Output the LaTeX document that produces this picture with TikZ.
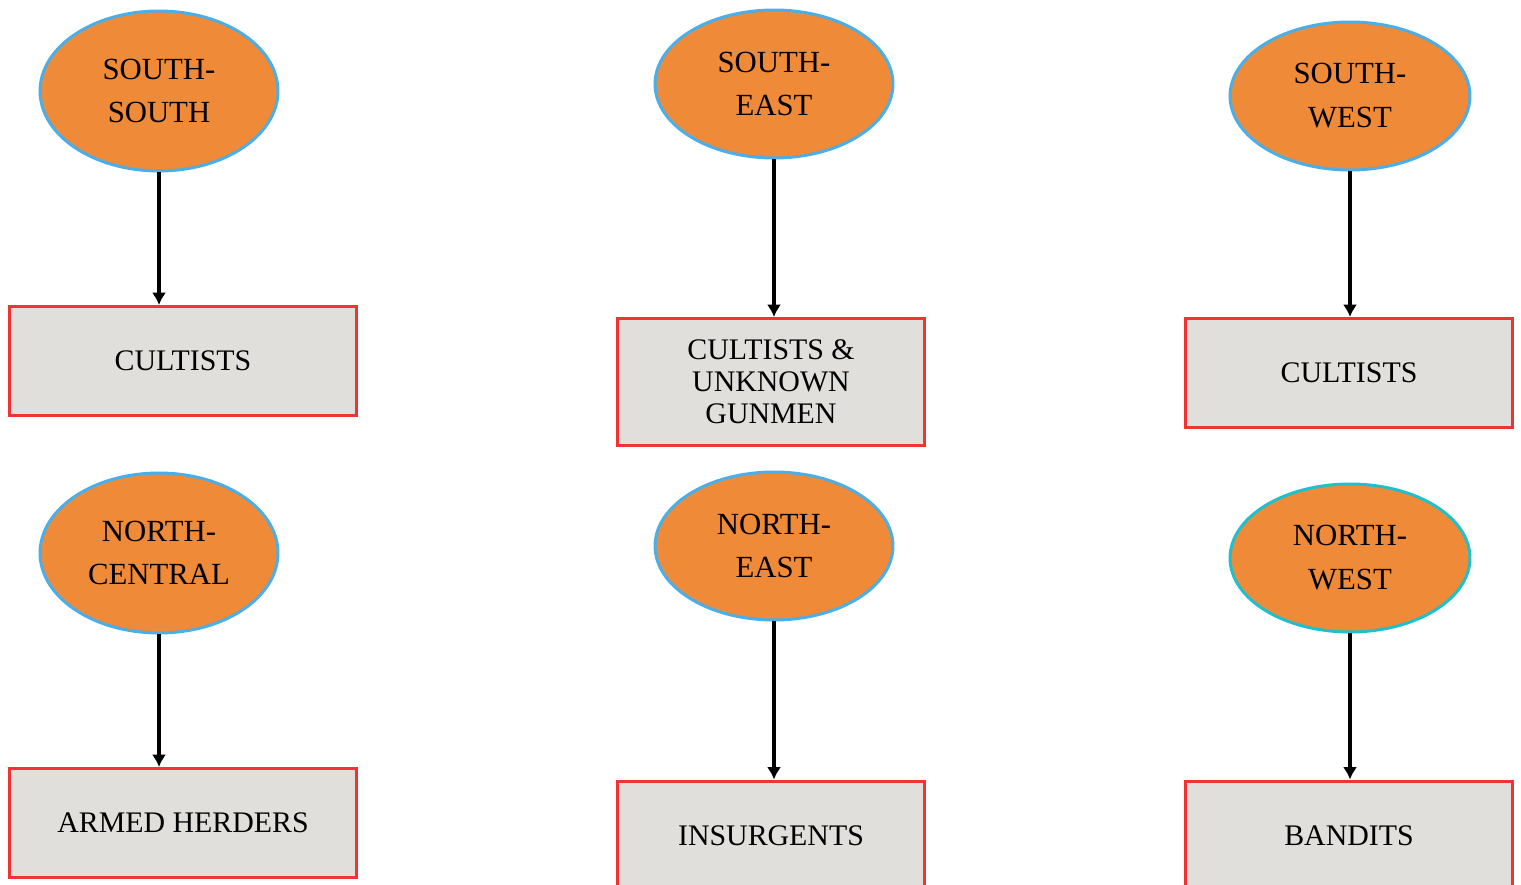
\documentclass[tikz,border=0pt]{standalone}
\usepackage{fontspec}
\setmainfont{Liberation Serif}
\usetikzlibrary{shapes.geometric, arrows.meta}

\definecolor{regionfill}{HTML}{EE8A38}
\definecolor{regionline}{HTML}{4AAEE8}
\definecolor{tealline}{HTML}{1EC0CC}
\definecolor{groupfill}{HTML}{E0DFDB}
\definecolor{groupline}{HTML}{F03434}

\tikzset{
  region/.style={ellipse, draw = regionline, fill = regionfill, line width = 1.7pt,
    inner sep = 0pt, align = center, font = \fontsize{17.5}{25}\selectfont},
  group/.style={rectangle, draw = groupline, fill = groupfill, line width = 1.7pt,
    inner sep = 0pt, align = center, font = \fontsize{17}{18.2}\selectfont},
  link/.style={-{Latex[length = 7pt, width = 8pt]}, line width = 1.8pt}
}

\begin{document}
\begin{tikzpicture}[x = 0.02cm, y = -0.02cm]

        \useasboundingbox (0, 0) rectangle (1521, 885);
        \clip (0, 0) rectangle (1521, 885);

        % regions
        \node (ss) at (159, 91) [region, minimum width = 4.76cm, minimum height = 3.2cm] {SOUTH-\\SOUTH};
        \node (se) at (774, 84) [region, minimum width = 4.76cm, minimum height = 2.96cm] {SOUTH-\\EAST};
        \node (sw) at (1350, 96) [region, minimum width = 4.8cm, minimum height = 2.96cm] {SOUTH-\\WEST};

        \node (nc) at (159, 553) [region, minimum width = 4.76cm, minimum height = 3.2cm] {NORTH-\\CENTRAL};
        \node (ne) at (774, 546) [region, minimum width = 4.76cm, minimum height = 2.96cm] {NORTH-\\EAST};
        \node (nw) at (1350, 558) [region, draw = tealline, minimum width = 4.8cm, minimum height = 2.96cm] {NORTH-\\WEST};

        % groups
        \node (g1) at (183, 361) [group, minimum width = 6.96cm, minimum height = 2.18cm] {CULTISTS};
        \node (g2) at (771, 382) [group, minimum width = 6.16cm, minimum height = 2.54cm] {CULTISTS \&\\UNKNOWN\\GUNMEN};
        \node (g3) at (1349, 373) [group, minimum width = 6.56cm, minimum height = 2.18cm] {CULTISTS};

        \node (g4) at (183, 823) [group, minimum width = 6.96cm, minimum height = 2.18cm] {ARMED HERDERS};
        \node (g5) at (771, 836) [group, minimum width = 6.16cm, minimum height = 2.2cm] {INSURGENTS};
        \node (g6) at (1349, 836) [group, minimum width = 6.56cm, minimum height = 2.2cm] {BANDITS};

        % links
        \draw [link] (ss.south) -- (ss.south |- g1.north);
        \draw [link] (se.south) -- (se.south |- g2.north);
        \draw [link] (sw.south) -- (sw.south |- g3.north);
        \draw [link] (nc.south) -- (nc.south |- g4.north);
        \draw [link] (ne.south) -- (ne.south |- g5.north);
        \draw [link] (nw.south) -- (nw.south |- g6.north);

    \end{tikzpicture}
\end{document}
